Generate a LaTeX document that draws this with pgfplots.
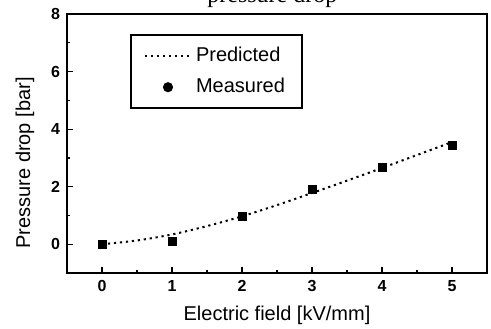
\documentclass[border=0pt]{standalone}
\usepackage{fontspec}
\setmainfont{Liberation Sans}
\newfontfamily\seriffont{Liberation Serif}
\usepackage{pgfplots}
\pgfplotsset{compat=1.18}
\pgfplotsset{
  predicted legend/.style={legend image code/.code={\draw[#1] (0pt,0pt) -- (23pt,0pt);}},
  measured legend/.style={legend image code/.code={\fill[black] (11.5pt,0pt) circle (2pt); \path[draw=none] (0pt,0pt) -- (23pt,0pt);}},
}

\begin{document}
\begin{tikzpicture}
\begin{axis}[
  scale only axis, width=210pt, height=129.5pt,
  xmin=-0.5, xmax=5.5, ymin=-1, ymax=8,
  xtick={0,1,2,3,4,5}, ytick={0,2,4,6,8},
  minor x tick num=1, minor y tick num=1,
  tick align=inside, tick pos=left,
  major tick length=3pt, minor tick length=1.5pt,
  axis line style={line width=0.9pt},
  every tick/.style={black, line width=0.6pt},
  ticklabel style={font=\bfseries\fontsize{8}{9}\selectfont},
  /pgf/number format/assume math mode=true,
  xlabel={Electric field [kV/mm]},
  ylabel={Pressure drop [bar]},
  label style={font=\fontsize{10}{12}\selectfont},
  xlabel style={at={(axis description cs:0.5,0)}, anchor=center, yshift=-21pt},
  ylabel style={at={(axis description cs:-0.1,0.425)}, anchor=center},
  legend style={at={(axis description cs:0.15,0.923)}, anchor=north west,
    draw=black, line width=1pt, font=\fontsize{10}{12}\selectfont,
    inner xsep=6.5pt, inner ysep=4pt, row sep=3pt, cells={anchor=west}},
  legend cell align=left,
]
% model curve
\addplot[black, line width=1pt, dash pattern=on 1.1pt off 1.9pt, smooth, predicted legend]
  coordinates {(0,0) (0.5,0.13) (1,0.34) (1.5,0.63) (2,0.97) (2.5,1.36)
               (3,1.78) (3.5,2.21) (4,2.65) (4.5,3.1) (5,3.55)};
\addlegendentry{Predicted}
% experimental points
\addplot[only marks, black, mark=square*, mark size=2pt, measured legend]
  coordinates {(0,0) (1,0.11) (2,0.97) (3,1.91) (4,2.66) (5,3.44)};
\addlegendentry{Measured}
\end{axis}
\node[anchor=base west, font=\seriffont\fontsize{12}{14}\selectfont, inner sep=0pt]
  at (70pt,135.5pt) {pressure drop};
\pgfresetboundingbox
\useasboundingbox (-33.5pt,-27.5pt) rectangle (212pt,136.5pt);
\end{tikzpicture}
\end{document}
